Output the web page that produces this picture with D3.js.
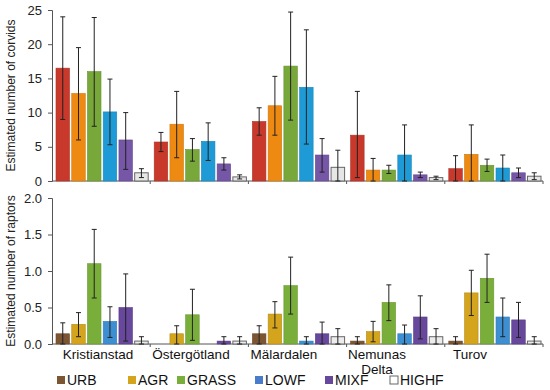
<!DOCTYPE html>
<html>
<head>
<meta charset="utf-8">
<script src="https://cdn.jsdelivr.net/npm/d3@7"></script>
<style>
  body { margin: 0; background: #fff; }
  svg { font-family: "Liberation Sans", Arial, sans-serif; }
</style>
</head>
<body>
<svg id="chart" width="550" height="390"></svg>
<script>
const regions = ["Kristianstad", "Östergötland", "Mälardalen", "Nemunas Delta", "Turov"];
const habitats = ["URB", "AGR", "GRASS", "LOWF", "MIXF", "HIGHF"];

// corvids: mean, lower and upper error per habitat (rows) x region (cols)
const corvidMean = [
    [16.5, 5.7, 8.7, 6.7, 1.8],
    [12.8, 8.3, 11.0, 1.6, 3.9],
    [16.0, 4.6, 16.8, 1.6, 2.3],
    [10.1, 5.8, 13.7, 3.8, 1.9],
    [6.0, 2.5, 3.8, 0.9, 1.2],
    [1.2, 0.6, 2.0, 0.5, 0.7]
];
const corvidLow = [
    [9.0, 4.3, 6.7, 0.5, 0.0],
    [6.0, 3.4, 6.7, 0.0, 0.0],
    [8.0, 2.9, 8.9, 1.1, 1.4],
    [5.3, 3.0, 5.4, 0.0, 0.0],
    [1.7, 1.6, 1.3, 0.5, 0.5],
    [0.5, 0.3, 0.0, 0.2, 0.2]
];
const corvidHigh = [
    [24.0, 7.1, 10.7, 13.1, 3.7],
    [19.5, 13.1, 15.3, 3.3, 8.2],
    [23.9, 6.2, 24.7, 2.3, 3.2],
    [14.9, 8.5, 22.1, 8.2, 3.8],
    [10.0, 3.4, 6.2, 1.3, 1.9],
    [1.8, 0.9, 4.5, 0.7, 1.2]
];

// raptors
const raptorMean = [
    [0.14, 0.0, 0.14, 0.04, 0.04],
    [0.27, 0.14, 0.41, 0.17, 0.70],
    [1.10, 0.40, 0.80, 0.57, 0.90],
    [0.31, 0.0, 0.04, 0.14, 0.37],
    [0.50, 0.04, 0.14, 0.37, 0.33],
    [0.04, 0.04, 0.10, 0.10, 0.04]
];
const raptorLow = [
    [0.0, 0.0, 0.0, 0.0, 0.0],
    [0.10, 0.0, 0.22, 0.03, 0.39],
    [0.63, 0.05, 0.41, 0.32, 0.57],
    [0.09, 0.0, 0.0, 0.0, 0.10],
    [0.04, 0.0, 0.0, 0.07, 0.09],
    [0.0, 0.0, 0.0, 0.0, 0.0]
];
const raptorHigh = [
    [0.29, 0.0, 0.25, 0.10, 0.10],
    [0.43, 0.25, 0.58, 0.31, 1.01],
    [1.57, 0.75, 1.19, 0.81, 1.23],
    [0.51, 0.0, 0.10, 0.26, 0.63],
    [0.96, 0.10, 0.30, 0.66, 0.57],
    [0.10, 0.10, 0.21, 0.21, 0.10]
];

const corvidTicks = [0, 5, 10, 15, 20, 25];
const raptorTicks = [0, 0.5, 1.0, 1.5, 2.0];

const topColors = ["#c8392c", "#ee8a12", "#78a83a", "#1e9bd6", "#7656a6", "#e6e6e6"];
const bottomColors = ["#7c5533", "#d3a41c", "#7aae3a", "#3d8fd2", "#67489c", "#ececec"];
const legendColors = ["#7c5533", "#d3a41c", "#7aae3a", "#4a7ccc", "#67489c", "#ffffff"];

const svg = d3.select("#chart");
const left = 52, right = 543;

const x = d3.scaleBand().domain(regions).range([left, right]).padding(0);
const xInner = d3.scaleBand().domain(habitats)
    .range([4, x.bandwidth() - 2]).paddingInner(0.14);
// category labels sit a bit left of the group centres in the original
const xLabel = d3.scalePoint().domain(regions).range([98, 470]);

function drawPanel(opts) {
    const y = d3.scaleLinear().domain(opts.domain).range([opts.bottom, opts.top]);
    const g = svg.append("g");

    const yAxis = g.append("g")
        .attr("transform", `translate(${left},0)`)
        .call(d3.axisLeft(y).tickValues(opts.ticks).tickFormat(opts.format).tickSize(4).tickPadding(6));
    yAxis.select(".domain").attr("stroke", "#555");
    yAxis.selectAll(".tick line").attr("stroke", "#555");
    yAxis.selectAll("text").style("font-size", "13px").attr("fill", "#222");

    // baseline with region separators
    g.append("line")
        .attr("x1", left).attr("x2", right)
        .attr("y1", opts.bottom).attr("y2", opts.bottom)
        .attr("stroke", "#555");
    g.selectAll(".sep")
        .data(regions.slice(1).map(r => x(r)).concat([right]))
        .join("line")
        .attr("x1", d => d).attr("x2", d => d)
        .attr("y1", opts.bottom).attr("y2", opts.bottom + 3)
        .attr("stroke", "#555");

    const rows = [];
    habitats.forEach((h, hi) => {
        regions.forEach((r, ri) => {
            rows.push({ h, hi, r, v: opts.mean[hi][ri], lo: opts.low[hi][ri], up: opts.high[hi][ri] });
        });
    });

    g.selectAll("rect.bar")
        .data(rows.filter(d => d.v > 0))
        .join("rect")
        .attr("class", "bar")
        .attr("x", d => x(d.r) + xInner(d.h))
        .attr("width", xInner.bandwidth())
        .attr("y", d => y(d.v))
        .attr("height", d => opts.bottom - y(d.v))
        .attr("fill", d => opts.colors[d.hi])
        .attr("stroke", d => d.h === "HIGHF" ? "#666" : d3.color(opts.colors[d.hi]).darker(0.4))
        .attr("stroke-width", d => d.h === "HIGHF" ? 1 : 0.6);

    const err = g.selectAll("g.err")
        .data(rows.filter(d => d.up > 0))
        .join("g")
        .attr("class", "err")
        .attr("transform", d => `translate(${x(d.r) + xInner(d.h) + xInner.bandwidth() / 2},0)`);
    err.append("line")
        .attr("y1", d => y(d.lo)).attr("y2", d => y(d.up))
        .attr("stroke", "#222").attr("stroke-width", 1);
    err.append("line")
        .attr("x1", -2.5).attr("x2", 2.5)
        .attr("y1", d => y(d.up)).attr("y2", d => y(d.up))
        .attr("stroke", "#222").attr("stroke-width", 1);
    err.append("line")
        .attr("x1", -2.5).attr("x2", 2.5)
        .attr("y1", d => y(d.lo)).attr("y2", d => y(d.lo))
        .attr("stroke", "#222").attr("stroke-width", 1);

    g.append("text")
        .attr("transform", `translate(15,${(opts.top + opts.bottom) / 2}) rotate(-90)`)
        .attr("text-anchor", "middle")
        .style("font-size", "12px")
        .attr("fill", "#222")
        .text(opts.title);
}

drawPanel({
    top: 10, bottom: 181, domain: [0, 25], ticks: corvidTicks, format: d3.format("d"),
    mean: corvidMean, low: corvidLow, high: corvidHigh, colors: topColors,
    title: "Estimated number of corvids"
});
drawPanel({
    top: 198, bottom: 344, domain: [0, 2], ticks: raptorTicks, format: d3.format(".1f"),
    mean: raptorMean, low: raptorLow, high: raptorHigh, colors: bottomColors,
    title: "Estimated number of raptors"
});

// region labels ("Nemunas Delta" wraps onto two lines, one text each)
const labelLines = [];
regions.forEach(r => {
    const parts = r === "Nemunas Delta" ? ["Nemunas", "Delta"] : [r];
    parts.forEach((p, i) => labelLines.push({ region: r, text: p, line: i }));
});
svg.append("g").selectAll("text")
    .data(labelLines)
    .join("text")
    .attr("x", d => xLabel(d.region))
    .attr("y", d => 359 + d.line * 15)
    .attr("text-anchor", "middle")
    .style("font-size", "13.5px")
    .attr("fill", "#111")
    .text(d => d.text);

// legend
const legendX = [57, 128, 177, 255, 325, 390];
const legend = svg.append("g").selectAll("g")
    .data(habitats)
    .join("g")
    .attr("transform", (d, i) => `translate(${legendX[i]},380)`);
legend.append("rect")
    .attr("x", 0).attr("y", -4).attr("width", 8).attr("height", 8)
    .attr("fill", (d, i) => legendColors[i])
    .attr("stroke", (d, i) => i === 5 ? "#666" : "none");
legend.append("text")
    .attr("x", 10).attr("y", 5)
    .style("font-size", "14px")
    .attr("fill", "#111")
    .text(d => d);
</script>
</body>
</html>
